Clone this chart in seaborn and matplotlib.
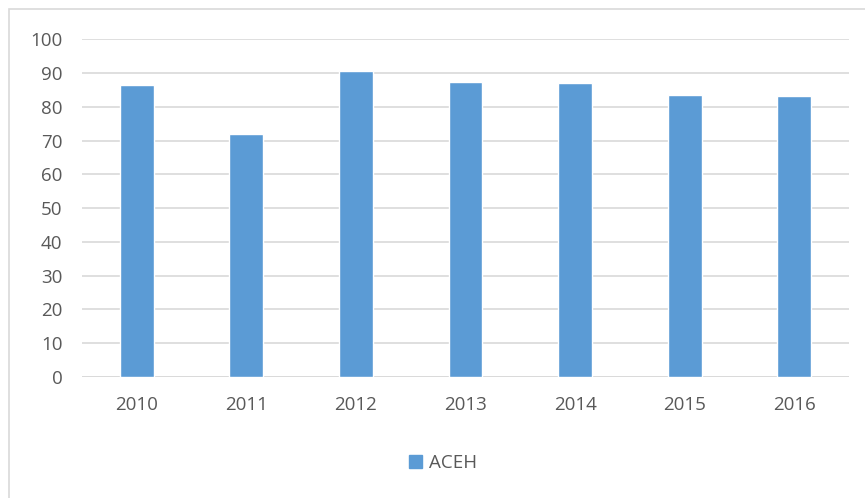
import matplotlib
matplotlib.use("Agg")
import matplotlib.pyplot as plt
import seaborn as sns
import pandas as pd
from matplotlib.patches import Rectangle

years = ["2010", "2011", "2012", "2013", "2014", "2015", "2016"]
values = [86.4, 72.0, 90.6, 87.3, 87.1, 83.6, 83.1]
series_name = "ACEH"
yticks = [0, 10, 20, 30, 40, 50, 60, 70, 80, 90, 100]

df = pd.DataFrame({"year": years, "value": values, "series": series_name})

sns.set_theme(style="white")
plt.rcParams['font.family'] = ['Open Sans', 'DejaVu Sans']

fig = plt.figure(figsize=(8.65, 4.98), dpi=100)
ax = fig.add_axes([82/865, 1-377/498, (849-82)/865, (377-39.3)/498])

sns.barplot(data=df, x="year", y="value", hue="series", palette=["#5b9bd5"],
            width=0.31, ax=ax, legend=True, saturation=1)

ax.set_ylim(0, 100)
ax.set_yticks(yticks)
ax.set_xlim(-0.5, len(years) - 0.5)
ax.yaxis.grid(True, color="#d9d9d9", linewidth=1.2)
ax.set_axisbelow(True)
for s in ax.spines.values():
    s.set_visible(False)
ax.axhline(0, color="#d9d9d9", linewidth=1.2, zorder=0.5)
ax.set_xlabel("")
ax.set_ylabel("")
ax.tick_params(axis="both", length=0, labelsize=13.5, colors="#595959")
ax.tick_params(axis="y", pad=14)
ax.tick_params(axis="x", pad=14)

leg = ax.get_legend()
leg.remove()
handles = [Rectangle((0, 0), 1, 1, color="#5b9bd5")]
fig.legend(handles, [series_name], loc="center", bbox_to_anchor=(443/865, 1-463/498),
           frameon=False, fontsize=13.5, handlelength=0.7, handleheight=0.7,
           handletextpad=0.4, labelcolor="#595959")

# chart border
fig.patches.append(Rectangle((9/865, -0.01), 1.0, 1 - 9/498 + 0.01, transform=fig.transFigure,
                             fill=False, edgecolor="#d9d9d9", linewidth=1.2))

fig.savefig("out.png", dpi=100, facecolor="white")
